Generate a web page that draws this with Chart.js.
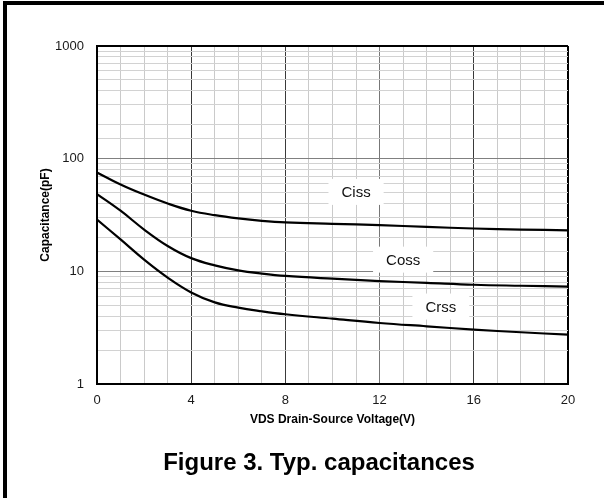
<!DOCTYPE html>
<html>
<head>
<meta charset="utf-8">
<script src="https://cdn.jsdelivr.net/npm/chart.js@4.4.1/dist/chart.umd.min.js"></script>
<style>
  html, body { margin: 0; padding: 0; background: #fff; overflow: hidden; }
  #frame { position: absolute; left: 3px; top: 1px; width: 700px; height: 600px;
           border-left: 4px solid #000; border-top: 4px solid #000; }
  #capChart { position: absolute; left: 0; top: 0; }
  #caption { position: absolute; left: 0; top: 448px; width: 638px; text-align: center;
             font: bold 24px "Liberation Sans", Arial, sans-serif; line-height: 28px; color: #000; }
</style>
</head>
<body>
<div id="frame"></div>
<canvas id="capChart" width="604" height="498"></canvas>
<div id="caption">Figure 3. Typ. capacitances</div>
<script>
// VDS (V)
const vds = [0, 1, 2, 3, 4, 5, 6, 7, 8, 10, 12, 14, 16, 18, 20];
// capacitances in pF
const ciss = [75.5, 59, 48, 40, 34.5, 31.5, 29.5, 28.1, 27.2, 26.4, 25.7, 24.8, 24.0, 23.5, 23.1];
const coss = [48.5, 34.5, 23.5, 16.8, 13.1, 11.3, 10.2, 9.55, 9.1, 8.6, 8.2, 7.9, 7.6, 7.45, 7.33];
const crss = [28.8, 19.2, 12.7, 8.8, 6.5, 5.3, 4.76, 4.42, 4.16, 3.8, 3.48, 3.25, 3.04, 2.88, 2.74];
const seriesNames = ['Ciss', 'Coss', 'Crss'];
// where each curve name sits (x in V, y in pF)
const labelX = [11.0, 13.0, 14.6];
const labelY = [50.7, 12.7, 4.87];
const xTicks = [0, 4, 8, 12, 16, 20];
const yTicks = [1, 10, 100, 1000];

const FONT = 'Liberation Sans, Arial, sans-serif';

function toPoints(ys) {
  return vds.map((x, i) => ({ x: x, y: ys[i] }));
}

const isDecade = v => Math.abs(Math.log10(v) - Math.round(Math.log10(v))) < 1e-9;

// white boxes with the curve names
const curveLabels = {
  id: 'curveLabels',
  beforeDatasetsDraw(chart) {
    const { ctx, scales: { x, y } } = chart;
    ctx.save();
    ctx.font = '15px ' + FONT;
    ctx.textAlign = 'center';
    ctx.textBaseline = 'middle';
    seriesNames.forEach((name, i) => {
      const px = x.getPixelForValue(labelX[i]);
      const py = y.getPixelForValue(labelY[i]);
      const w = ctx.measureText(name).width + 26;
      const h = 26;
      ctx.fillStyle = '#fff';
      ctx.fillRect(px - w / 2, py - h / 2, w, h);
      ctx.fillStyle = '#111';
      ctx.fillText(name, px, py + 1);
    });
    ctx.restore();
  }
};

const lineStyle = {
  borderColor: '#000',
  borderWidth: 2.2,
  pointRadius: 0,
  fill: false,
  tension: 0.4
};

new Chart(document.getElementById('capChart'), {
  type: 'line',
  data: {
    datasets: [
      Object.assign({ label: seriesNames[0], data: toPoints(ciss) }, lineStyle),
      Object.assign({ label: seriesNames[1], data: toPoints(coss) }, lineStyle),
      Object.assign({ label: seriesNames[2], data: toPoints(crss) }, lineStyle)
    ]
  },
  options: {
    responsive: false,
    animation: false,
    layout: { padding: { top: 46, right: 36, left: 0, bottom: 61 } },
    plugins: {
      legend: { display: false },
      tooltip: { enabled: false }
    },
    scales: {
      x: {
        type: 'linear',
        min: 0,
        max: 20,
        afterFit(scale) { scale.height = 53; },
        ticks: {
          stepSize: 1,
          autoSkip: false,
          maxRotation: 0,
          padding: 9,
          color: '#1a1a1a',
          font: { family: FONT, size: 13 },
          callback: v => (xTicks.includes(v) ? String(v) : '')
        },
        grid: {
          drawTicks: false,
          color: c => {
            const v = c.tick.value;
            if (v === 20) return '#000';
            if (v === 12) return '#777';
            if (v % 4 === 0) return '#3a3a3a';
            return '#cacaca';
          },
          lineWidth: c => (c.tick.value === 20 ? 2 : 1)
        },
        border: { display: true, color: '#000', width: 2 },
        title: {
          display: true,
          text: 'VDS Drain-Source Voltage(V)',
          color: '#000',
          font: { family: FONT, size: 12, weight: 'bold' },
          padding: { top: 0, bottom: 10 }
        }
      },
      y: {
        type: 'logarithmic',
        min: 1,
        max: 1000,
        afterFit(scale) { scale.width = 97; },
        ticks: {
          autoSkip: false,
          padding: 13,
          color: '#1a1a1a',
          font: { family: FONT, size: 13 },
          callback: v => (yTicks.includes(v) ? String(v) : '')
        },
        grid: {
          drawTicks: false,
          color: c => {
            const v = c.tick.value;
            if (v === 1000) return '#000';
            if (isDecade(v)) return '#808080';
            return '#d2d2d2';
          },
          lineWidth: c => (c.tick.value === 1000 ? 2 : 1)
        },
        border: { display: true, color: '#000', width: 2 },
        title: {
          display: true,
          text: 'Capacitance(pF)',
          color: '#000',
          font: { family: FONT, size: 12, weight: 'bold' },
          padding: { top: 38, bottom: 0 }
        }
      }
    }
  },
  plugins: [curveLabels]
});
</script>
</body>
</html>
